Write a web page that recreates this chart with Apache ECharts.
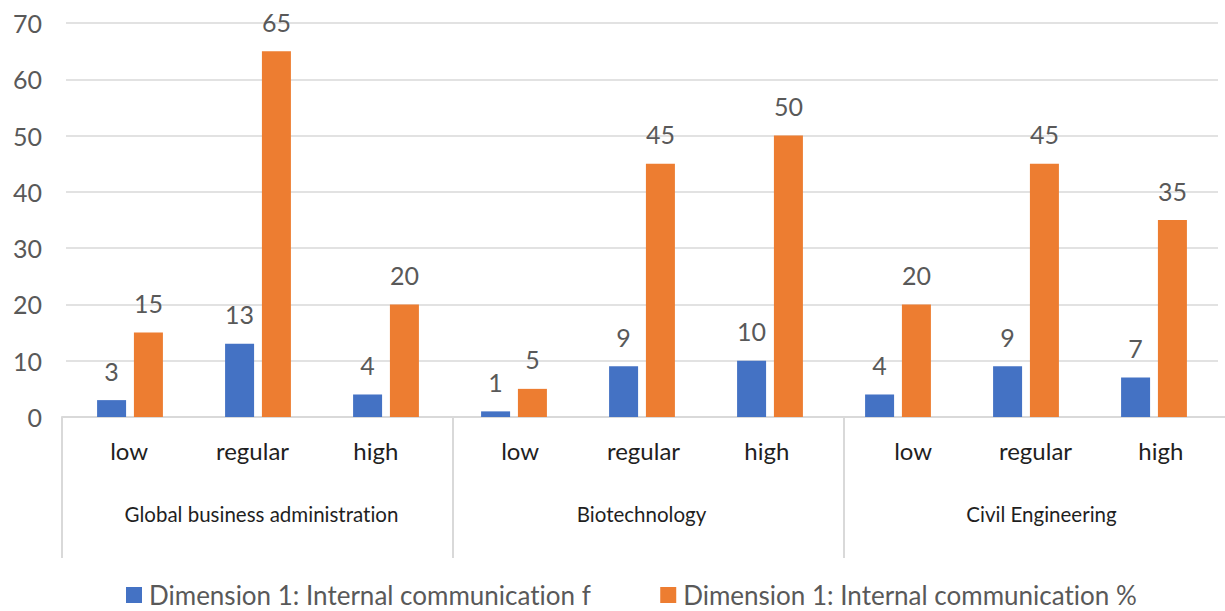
<!DOCTYPE html>
<html>
<head>
<meta charset="utf-8">
<style>
  html, body { margin: 0; padding: 0; background: #ffffff; }
  #chart { width: 1225px; height: 611px; overflow: hidden; }
  #chart text { font-variant-ligatures: none; }
</style>
<script src="https://cdn.jsdelivr.net/npm/echarts@6/dist/echarts.min.js"></script>
</head>
<body>
<div id="chart"></div>
<script>
// Programmes (outer category level) and engagement levels (inner level)
const groups = ['Global business administration', 'Biotechnology', 'Civil Engineering'];
const levels = ['low', 'regular', 'high'];

// Series names and values, ordered programme by programme, level by level
const seriesNames = ['Dimension 1: Internal communication f', 'Dimension 1: Internal communication %'];
const freqValues = [3, 13, 4, 1, 9, 10, 4, 9, 7];
const pctValues = [15, 65, 20, 5, 45, 50, 20, 45, 35];

// Value axis range
const yMin = 0;
const yMax = 70;
const yStep = 10;

// Label nudges (px) so the level and programme names sit where the layout places them
const levelNudge = [2, -5, -12, 2, -5, -12, 4, -4, -9];
const groupNudge = [4, -7, 2];

const FONT = 'Lato';
const BLUE = '#4472C4';
const ORANGE = '#ED7D31';
const GRID_GREY = '#d9d9d9';
const TEXT_GREY = '#595959';
const TEXT_DARK = '#1f1f1f';

// One flat category per (programme, level) pair
const flatCats = [];
groups.forEach(g => levels.forEach(l => flatCats.push(g + '|' + l)));

function nudgePad(s) {
  return s >= 0 ? [0, 0, 0, 2 * s] : [0, -2 * s, 0, 0];
}

const levelRich = {};
levelNudge.forEach((s, i) => {
  levelRich['s' + i] = { fontFamily: FONT, fontSize: 24, color: TEXT_DARK, padding: nudgePad(s) };
});
const groupRich = {};
groupNudge.forEach((s, i) => {
  groupRich['g' + i] = { fontFamily: FONT, fontSize: 20.5, color: TEXT_DARK, padding: nudgePad(s) };
});

const chart = echarts.init(document.getElementById('chart'), null, { renderer: 'svg' });

const valueLabel = {
  show: true,
  position: 'top',
  distance: 17,
  fontFamily: FONT,
  fontSize: 25,
  color: TEXT_GREY
};

// The lower category band runs slightly past the right edge of the canvas
const bandGrid = { left: 62, width: 1173, top: 23, bottom: 194, outerBoundsMode: 'none', containLabel: false };

chart.setOption({
  animation: false,
  backgroundColor: '#ffffff',
  textStyle: { fontFamily: FONT },
  grid: [
    // plot area for the bars
    { left: 66, right: 7, top: 23, bottom: 194 },
    // level names under the bars
    Object.assign({}, bandGrid),
    // programme names and separators
    Object.assign({}, bandGrid)
  ],
  xAxis: [
    {
      type: 'category', gridIndex: 0, data: flatCats,
      axisLine: { show: false }, axisTick: { show: false }, axisLabel: { show: false }
    },
    {
      type: 'category', gridIndex: 1, data: flatCats, position: 'bottom',
      axisLine: { show: true, lineStyle: { color: GRID_GREY, width: 2 } },
      axisTick: { show: false },
      axisLabel: {
        interval: 0,
        margin: 21,
        formatter: (v, i) => '{s' + i + '|' + v.split('|')[1] + '}',
        rich: levelRich
      }
    },
    {
      type: 'category', gridIndex: 2, data: groups, position: 'bottom',
      axisLine: { show: false },
      axisTick: { show: true, interval: 0, length: 141, lineStyle: { color: GRID_GREY, width: 2 } },
      axisLabel: {
        interval: 0,
        margin: 86,
        formatter: (v, i) => '{g' + i + '|' + v + '}',
        rich: groupRich
      }
    }
  ],
  yAxis: [
    {
      type: 'value', gridIndex: 0, min: yMin, max: yMax, interval: yStep,
      axisLine: { show: false }, axisTick: { show: false },
      axisLabel: { margin: 24, fontFamily: FONT, fontSize: 25, color: TEXT_GREY, padding: [0, 0, 4, 0] },
      splitLine: { lineStyle: { color: GRID_GREY, width: 1.5 } }
    },
    { type: 'value', gridIndex: 1, min: yMin, max: yMax, show: false, splitLine: { show: false } },
    { type: 'value', gridIndex: 2, min: yMin, max: yMax, show: false, splitLine: { show: false } }
  ],
  legend: {
    left: 126,
    top: 582,
    padding: 0,
    icon: 'rect',
    itemWidth: 16,
    itemHeight: 16,
    itemGap: 69,
    textStyle: { fontFamily: FONT, fontSize: 26, lineHeight: 22, color: TEXT_GREY, padding: [0, 0, 0, 2] },
    data: seriesNames
  },
  series: [
    {
      name: seriesNames[0], type: 'bar', xAxisIndex: 0, yAxisIndex: 0,
      data: freqValues, barWidth: 29, barGap: '27%',
      itemStyle: { color: BLUE },
      label: valueLabel
    },
    {
      name: seriesNames[1], type: 'bar', xAxisIndex: 0, yAxisIndex: 0,
      data: pctValues, barWidth: 29, barGap: '27%',
      itemStyle: { color: ORANGE },
      label: valueLabel
    }
  ]
});
</script>
</body>
</html>
